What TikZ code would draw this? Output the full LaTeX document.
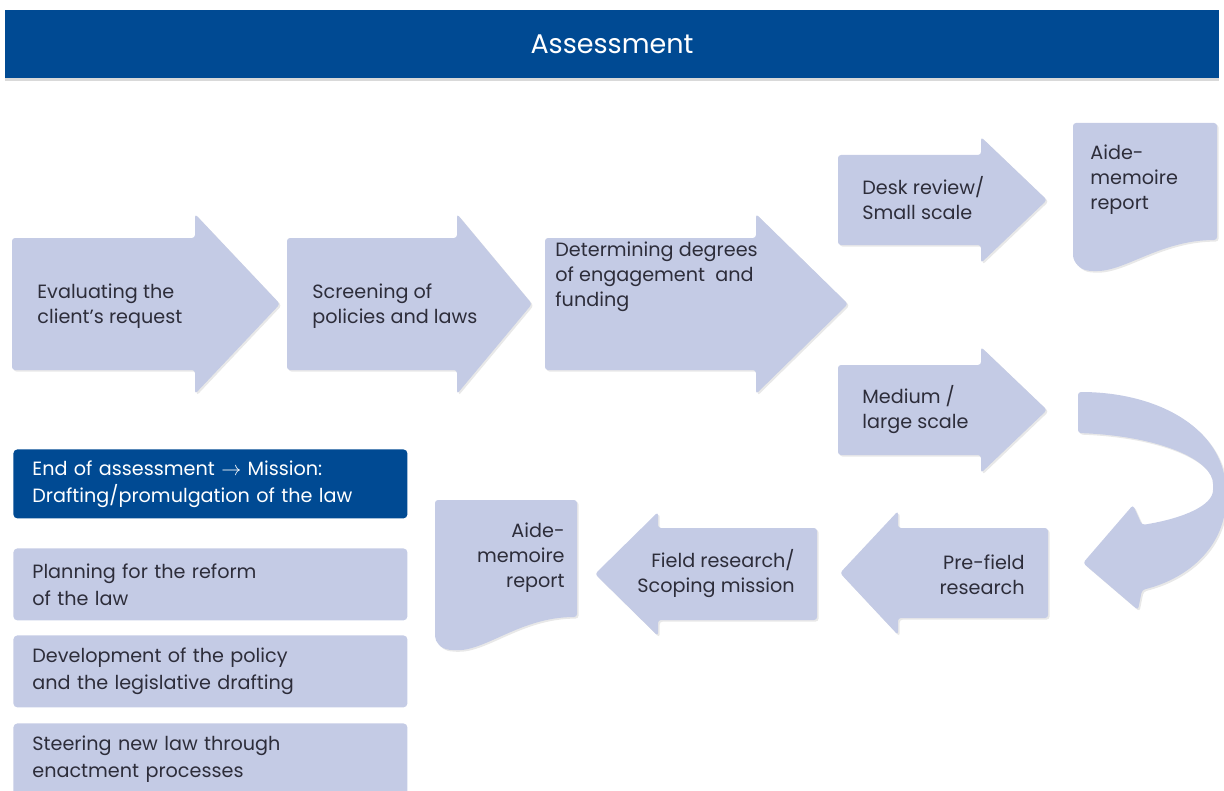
\documentclass[tikz,border=0pt]{standalone}
\usepackage{fontspec}
\setmainfont{Poppins}
\usetikzlibrary{shadows}

\definecolor{unblue}{RGB}{0,74,147}
\definecolor{paleblue}{RGB}{196,203,229}
\definecolor{inkgray}{RGB}{45,45,58}

% body end, head base, tip, centre y, half body, half head
\newcommand{\flowarrow}[6]{%
  \fill[arrowfill] (#1,#4-#5) -- (#2,#4-#5) -- (#2,#4-#6) -- (#3,#4)
    -- (#2,#4+#6) -- (#2,#4+#5) -- (#1,#4+#5) -- cycle;}

\begin{document}
\begin{tikzpicture}[x=0.5pt, y=-0.5pt,
    arrowfill/.style={fill=paleblue, rounded corners=1.5pt,
      drop shadow={opacity=0.18, shadow xshift=0.8pt, shadow yshift=-0.8pt}},
    steptext/.style={font=\fontsize{9.6}{12.5}\selectfont, text=inkgray, inner sep=0pt},
    listbox/.style={fill=paleblue, rounded corners=2pt, anchor=north west,
      text width=178pt, inner xsep=9.5pt, minimum height=36pt, align=left,
      font=\fontsize{9.6}{13.5}\selectfont, text=inkgray}]
	\useasboundingbox (0,0) rectangle (1224,791);

	% title bar
	\node[fill=unblue, minimum width=607pt, minimum height=34pt, inner sep=0pt,
	  text=white, font=\fontsize{13.5}{16}\selectfont,
	  drop shadow={opacity=0.3, shadow xshift=0pt, shadow yshift=-1.5pt}]
	  (title) at (612,44) {Assessment};

	% main row
	\flowarrow{12}{195}{280}{304}{66}{90}
	\flowarrow{287}{457}{532}{304}{66}{90}
	\flowarrow{545}{756}{848}{304}{66}{90}
	\node[steptext, anchor=west, align=left] (evaluate) at (37,306) {Evaluating the\\client’s request};
	\node[steptext, anchor=west, align=left] (screen) at (312,306) {Screening of\\policies and laws};
	\node[steptext, anchor=west, align=left] (degree) at (555,277) {Determining degrees\\of engagement \ and\\funding};

	% small scale branch
	\flowarrow{838}{981}{1047}{200}{45}{63}
	\node[steptext, anchor=west, align=left] (desk) at (862,198) {Desk review/\\Small scale};
	\fill[arrowfill] (1073,123) -- (1217,123) -- (1217,240)
	  .. controls (1160,240) and (1125,272) .. (1092,271)
	  .. controls (1080,270) and (1073,262) .. (1073,252) -- cycle;
	\node[steptext, anchor=west, align=left] (memotop) at (1090,180) {Aide-\\memoire\\report};

	% medium / large branch
	\flowarrow{838}{981}{1047}{410}{45}{63}
	\node[steptext, anchor=west, align=left] (medium) at (862,410) {Medium /\\large scale};
	\fill[arrowfill] (1078,392) .. controls (1160,392) and (1226,430) .. (1226,495)
	  .. controls (1226,545) and (1190,578) .. (1142,590)
	  -- (1138,610) -- (1083,563) -- (1133,505) -- (1142,525)
	  .. controls (1185,518) and (1213,505) .. (1213,487)
	  .. controls (1213,460) and (1160,436) .. (1078,433) -- cycle;

	% return row
	\flowarrow{1048}{898}{840}{573}{45}{62}
	\flowarrow{817}{658}{595}{574}{46}{62}
	\node[steptext, anchor=east, align=right] (prefield) at (1025,575) {Pre-field\\research};
	\node[steptext, anchor=east, align=right] (field) at (795,574) {Field research/\\Scoping mission};
	\fill[arrowfill] (435,500) -- (577,500) -- (577,617)
	  .. controls (520,617) and (485,652) .. (452,650)
	  .. controls (441,649) and (435,642) .. (435,633) -- cycle;
	\node[steptext, anchor=east, align=right] (memobottom) at (565,558) {Aide-\\memoire\\report};

	% mission list
	\node[listbox, fill=unblue, text=white, minimum height=34.5pt] (mission) at (13,449)
	  {End of assessment $\rightarrow$ Mission:\\Drafting/promulgation of the law};
	\node[listbox] (plan) at (13,548) {Planning for the reform\\of the law};
	\node[listbox] (policy) at (13,635) {Development of the policy\\and the legislative drafting};
	\node[listbox] (steer) at (13,723) {Steering new law through\\enactment processes};
\end{tikzpicture}
\end{document}
